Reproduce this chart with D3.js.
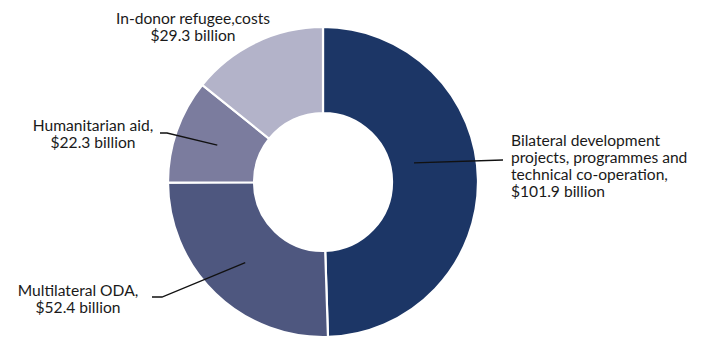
<!DOCTYPE html>
<html><head><meta charset="utf-8">
<script src="https://cdn.jsdelivr.net/npm/d3@7"></script>
<style>
body{margin:0;background:#fff;}
text{font-family:Lato,"Open Sans",sans-serif;fill:#1a1a1a;}
</style></head>
<body><svg id="c" width="710" height="339"></svg>
<script>
const categories = ["Bilateral development projects, programmes and technical co-operation", "Multilateral ODA", "Humanitarian aid", "In-donor refugee costs"];
const values = [101.9, 52.4, 22.3, 29.3];
const labelLines = [
  ["Bilateral development", "projects, programmes and", "technical co-operation,", "$101.9 billion"],
  ["Multilateral ODA,", "$52.4 billion"],
  ["Humanitarian aid,", "$22.3 billion"],
  ["In-donor refugee,costs", "$29.3 billion"]
];
const colors = ["#1c3666", "#4e577f", "#7b7c9e", "#b3b3c9"];

// layout (positions)
const cx = 323, cy = 182, R = 155, r0 = 69;
const lineH = 17;
const layout = [
  {x: 511, y: 145.5, anchor: "start", lead: {dA: -11, r: 93, knee: null, end: [503, 160]}},
  {x: 78, y: 296, anchor: "middle", lead: {dA: 0, r: 112, knee: [162, 297], end: [152, 297]}},
  {x: 93, y: 131, anchor: "middle", lead: {dA: 0, r: 112, knee: [167, 133], end: [160, 133]}},
  {x: 193, y: 23.5, anchor: "middle", lead: null}
];

const svg = d3.select("#c");
const g = svg.append("g").attr("transform", `translate(${cx},${cy})`);
const pie = d3.pie().sort(null).value(d => d);
const arcs = pie(values);
const arc = d3.arc().innerRadius(r0).outerRadius(R);

g.selectAll("path").data(arcs).join("path")
  .attr("d", arc)
  .attr("fill", (d, i) => colors[i])
  .attr("stroke", "#fff").attr("stroke-width", 2.2);

const lineGen = d3.line();
arcs.forEach((a, i) => {
  const L = layout[i];
  if (L.lead) {
    const ang = (a.startAngle + a.endAngle) / 2 + L.lead.dA * Math.PI / 180;
    const p = [cx + L.lead.r * Math.sin(ang), cy - L.lead.r * Math.cos(ang)];
    const pts = [p];
    if (L.lead.knee) pts.push(L.lead.knee);
    pts.push(L.lead.end);
    svg.append("path").attr("d", lineGen(pts)).attr("fill", "none")
      .attr("stroke", "#111").attr("stroke-width", 1.3);
  }
  const t = svg.append("text").attr("text-anchor", L.anchor)
    .attr("font-size", 15.6);
  labelLines[i].forEach((ln, j) => {
    t.append("tspan").attr("x", L.x).attr("y", L.y + j * lineH).text(ln);
  });
});
</script></body></html>
